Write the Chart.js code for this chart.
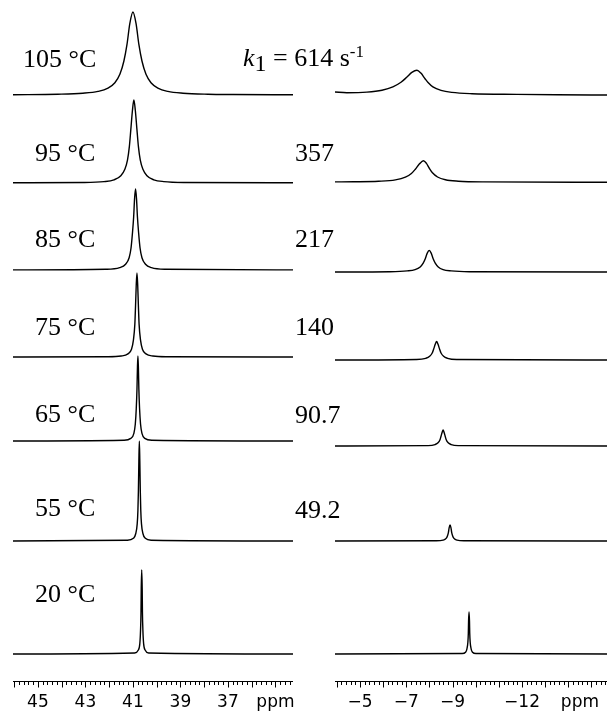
<!DOCTYPE html>
<html lang="en">
<head>
    <meta charset="UTF-8" />
    <title>Variable temperature NMR spectra</title>
    <script src="https://cdn.jsdelivr.net/npm/chart.js"></script>
    <style>
        body { margin: 0; background: #fff; }
        #wrap { position: relative; width: 608px; height: 714px; overflow: hidden; }
        canvas { position: absolute; top: 0; }
        #leftChart { left: 0; }
        #rightChart { left: 300px; }
        .lbl {
            position: absolute;
            font-family: "Liberation Serif", "Times New Roman", serif;
            font-size: 26px;
            line-height: 26px;
            white-space: nowrap;
            color: #000;
        }
        .lbl sub { font-size: 24px; vertical-align: -5px; line-height: 0; }
        .lbl sup { font-size: 17px; vertical-align: 9px; line-height: 0; }
    </style>
</head>
<body>
<div id="wrap">
    <canvas id="leftChart" width="300" height="714"></canvas>
    <canvas id="rightChart" width="308" height="714"></canvas>
</div>
<script>
// temperatures and exchange rates (top trace first)
const temps = ['105 °C', '95 °C', '85 °C', '75 °C', '65 °C', '55 °C', '20 °C'];
const rates = ['614', '357', '217', '140', '90.7', '49.2', null];

// tick labels
const leftTicks = [45, 43, 41, 39, 37, 35];
const rightTicks = [-5, -7, -9, -12, -14.5];

// spectra: [ppm, intensity]
const left105 = [[46.05,0.3],[44.16,0.8],[43.11,1.8],[42.47,3.6],[42.05,6.9],[41.76,12.3],[41.55,20.7],[41.38,34],[41.25,50.6],[41.13,71.6],[41.0,83],[40.87,71.6],[40.75,50.6],[40.62,34],[40.45,20.7],[40.24,12.3],[39.95,6.9],[39.53,3.6],[38.89,1.8],[37.84,0.8],[36.79,0.5],[34.26,0.2]];
const left95 = [[46.05,0.2],[43.07,0.5],[42.22,1.4],[41.8,3.2],[41.51,7.2],[41.34,13.7],[41.23,22.8],[41.15,36.6],[41.09,53.1],[41.02,72.8],[40.96,83],[40.9,72.8],[40.83,53.1],[40.77,36.6],[40.69,22.8],[40.58,13.7],[40.41,7.2],[40.12,3.2],[39.7,1.4],[38.86,0.5],[34.26,0.2]];
const left85 = [[46.05,0.1],[42.15,0.7],[41.56,2.3],[41.31,5.7],[41.16,12.3],[41.08,22],[41.02,37],[40.97,53],[40.93,71.6],[40.89,81],[40.85,71.6],[40.81,53],[40.76,37],[40.7,22],[40.62,12.3],[40.47,5.7],[40.22,2.3],[39.63,0.7],[34.26,0.1]];
const left75 = [[46.05,0],[42.09,0.3],[41.5,1],[41.21,3.1],[41.06,7.7],[40.98,16.8],[40.92,32.6],[40.89,51.2],[40.86,72.4],[40.83,84],[40.8,72.4],[40.77,51.2],[40.74,32.6],[40.68,16.8],[40.6,7.7],[40.45,3.1],[40.16,1],[39.57,0.3],[34.26,0]];
const left65 = [[46.05,0],[41.38,0.7],[41.09,2.6],[40.96,7.6],[40.9,17],[40.86,32.2],[40.83,51.8],[40.81,73.3],[40.79,85],[40.77,73.3],[40.75,51.8],[40.72,32.2],[40.68,17],[40.62,7.6],[40.5,2.6],[40.2,0.7],[34.26,0]];
const left55 = [[46.05,0],[41.24,0.7],[40.98,2.7],[40.88,7.5],[40.82,17.1],[40.79,30.8],[40.77,50],[40.75,80],[40.73,100],[40.71,80],[40.69,50],[40.67,30.8],[40.64,17.1],[40.58,7.5],[40.48,2.7],[40.23,0.7],[34.26,0]];
const left20 = [[46.05,0],[40.93,1],[40.78,3.7],[40.71,10.4],[40.68,23.6],[40.66,42],[40.65,65.4],[40.63,84],[40.61,65.4],[40.6,42],[40.58,23.6],[40.55,10.4],[40.48,3.7],[40.34,1],[34.26,0]];

const right105 = [[-3.92,2.5],[-4.43,1.8],[-5.3,2.4],[-5.95,4.3],[-6.42,7.6],[-6.77,12.2],[-7.03,17.5],[-7.24,22.1],[-7.46,24.3],[-7.63,21.4],[-7.81,15.8],[-7.94,12],[-8.15,7.6],[-8.5,4.1],[-8.97,2.1],[-9.84,0.8],[-11.78,0.1],[-13.5,-0.3],[-15.67,-0.5]];
const right95 = [[-3.92,0.4],[-4.72,0.5],[-5.8,1],[-6.53,2.4],[-6.96,5.1],[-7.22,8.8],[-7.39,13.1],[-7.57,18.5],[-7.74,21.5],[-7.87,18.9],[-8.0,13.8],[-8.13,9.5],[-8.35,5.3],[-8.69,2.5],[-9.25,1.1],[-10.33,0.4],[-15.67,0]];
const right85 = [[-3.92,0],[-6.26,0.3],[-7.04,1.1],[-7.38,2.4],[-7.6,5.1],[-7.73,8.9],[-7.82,13.2],[-7.9,18.6],[-7.99,21.6],[-8.08,18.6],[-8.16,13.2],[-8.25,8.9],[-8.38,5.1],[-8.59,2.4],[-8.94,1.1],[-9.72,0.3],[-15.67,0]];
const right75 = [[-3.92,0],[-7.45,0.5],[-7.84,1.7],[-8.01,3.7],[-8.12,7],[-8.18,10.7],[-8.25,15.7],[-8.31,18.5],[-8.37,15.7],[-8.44,10.7],[-8.5,7],[-8.61,3.7],[-8.78,1.7],[-9.17,0.5],[-15.67,0]];
const right65 = [[-3.92,0],[-7.94,0.4],[-8.24,1.4],[-8.37,3.2],[-8.46,6.6],[-8.5,9.8],[-8.55,13.8],[-8.59,16],[-8.63,13.8],[-8.68,9.8],[-8.72,6.6],[-8.81,3.2],[-8.94,1.4],[-9.24,0.4],[-15.67,0]];
const right55 = [[-3.92,0],[-8.28,0.3],[-8.59,0.9],[-8.72,2.6],[-8.78,5.3],[-8.82,8.7],[-8.85,13.2],[-8.89,16],[-8.93,13.2],[-8.96,8.7],[-9.0,5.3],[-9.06,2.6],[-9.19,0.9],[-9.5,0.3],[-15.67,0]];
const right20 = [[-3.92,0],[-9.41,0.5],[-9.56,1.8],[-9.62,5.2],[-9.66,11.8],[-9.68,21],[-9.69,32.7],[-9.71,42],[-9.73,32.7],[-9.74,21],[-9.76,11.8],[-9.8,5.2],[-9.86,1.8],[-10.01,0.5],[-15.67,0]];

const leftSpectra = [left105, left95, left85, left75, left65, left55, left20];
const rightSpectra = [right105, right95, right85, right75, right65, right55, right20];

// vertical stacking (chart units = pixels above the axis line)
const AXIS_Y = 681;
const leftBase = [95, 183, 270, 357, 441, 541, 654];
const rightBase = [94.5, 182.3, 272, 360, 446, 541, 654];

// label placement
const tempTop = [45.5, 140, 226, 314, 401, 495, 581];
const tempLeft = [23, 35, 35, 35, 35, 35, 35];
const rateTop = [45, 140, 226, 314, 402, 497];

const wrap = document.getElementById('wrap');
temps.forEach((t, i) => {
    const d = document.createElement('div');
    d.className = 'lbl';
    d.style.left = tempLeft[i] + 'px';
    d.style.top = tempTop[i] + 'px';
    d.textContent = t;
    wrap.appendChild(d);
});
rates.forEach((r, i) => {
    if (r === null) return;
    const d = document.createElement('div');
    d.className = 'lbl';
    d.style.top = rateTop[i] + 'px';
    if (i === 0) {
        d.style.left = '243px';
        d.innerHTML = '<i>k</i><sub>1</sub> = ' + r + ' s<sup>-1</sup>';
    } else {
        d.style.left = '295px';
        d.textContent = r;
    }
    wrap.appendChild(d);
});

// axis line plus minor (0.2 ppm) and major (1 ppm) ticks
const ppmTicks = {
    id: 'ppmTicks',
    afterDraw(chart) {
        const x = chart.scales.x;
        const ctx = chart.ctx;
        const y0 = x.top + 0.5;
        ctx.save();
        ctx.strokeStyle = '#000';
        ctx.lineWidth = 1;
        ctx.beginPath();
        ctx.moveTo(x.left, y0);
        ctx.lineTo(x.right, y0);
        ctx.stroke();
        for (let i = Math.ceil(x.min * 5 - 1e-6); i <= Math.floor(x.max * 5 + 1e-6); i++) {
            const px = Math.round(x.getPixelForValue(i / 5)) + 0.5;
            const len = i % 5 === 0 ? 6 : 3.5;
            ctx.beginPath();
            ctx.moveTo(px, y0);
            ctx.lineTo(px, y0 + len);
            ctx.stroke();
        }
        ctx.restore();
    }
};

function makeChart(id, spectra, bases, xmin, xmax, tickVals, pad) {
    const datasets = spectra.map((s, i) => ({
        data: s.map(([p, v]) => ({ x: p, y: v + AXIS_Y - bases[i] })),
        borderColor: '#000',
        borderWidth: 1.4,
        pointRadius: 0,
        cubicInterpolationMode: 'monotone',
        fill: false
    }));
    return new Chart(document.getElementById(id), {
        type: 'line',
        data: { datasets },
        options: {
            responsive: false,
            animation: false,
            events: [],
            layout: { padding: { left: pad[0], right: pad[1], top: 0, bottom: 0 } },
            plugins: { legend: { display: false }, tooltip: { enabled: false } },
            scales: {
                x: {
                    type: 'linear',
                    reverse: true,
                    min: xmin,
                    max: xmax,
                    afterBuildTicks: a => { a.ticks = tickVals.map(v => ({ value: v })); },
                    afterFit: a => { a.height = 714 - AXIS_Y; },
                    grid: { display: false, drawTicks: true, tickLength: 6 },
                    border: { display: false },
                    ticks: {
                        autoSkip: false,
                        maxRotation: 0,
                        padding: 5,
                        color: '#000',
                        font: { family: 'DejaVu Sans', size: 17 },
                        callback: v => {
                            if (v === 35 || v === -14.5) return 'ppm';
                            return v < 0 ? '\u2212' + Math.abs(v) : String(v);
                        }
                    }
                },
                y: { display: false, min: 0, max: AXIS_Y }
            }
        },
        plugins: [ppmTicks]
    });
}

makeChart('leftChart', leftSpectra, leftBase, 34.26, 46.05, leftTicks, [13, 7]);
makeChart('rightChart', rightSpectra, rightBase, -15.67, -3.92, rightTicks, [35, 1]);
</script>
</body>
</html>
